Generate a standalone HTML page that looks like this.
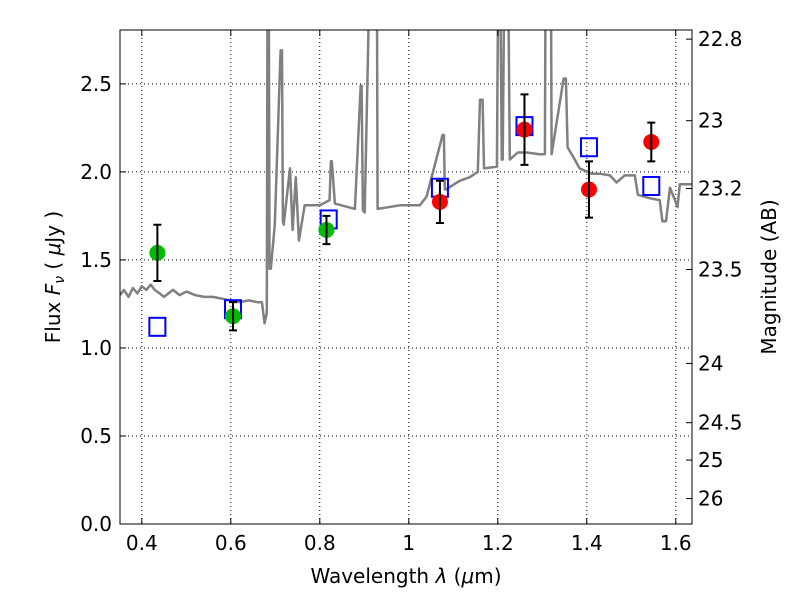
<!DOCTYPE html>
<html><head><meta charset="utf-8"><style>
body{margin:0;background:#fff;}
svg text{font-family:"DejaVu Sans","Liberation Sans",sans-serif;fill:#000;}
</style></head><body>
<svg id="chart" width="800" height="600" viewBox="0 0 800 600" xmlns="http://www.w3.org/2000/svg">
<defs><clipPath id="clip"><rect x="120" y="30" width="572" height="494"/></clipPath></defs>
<rect x="0" y="0" width="800" height="600" fill="#fff"/>
<g id="grid"></g>
<g id="spec" clip-path="url(#clip)"></g>
<g id="marks"></g>
<rect x="120" y="30" width="572" height="494" fill="none" stroke="#000" stroke-width="1"/>
<g id="axes"></g>
<text x="406" y="583" font-size="20" text-anchor="middle">Wavelength  <tspan font-style="italic">λ</tspan> (<tspan font-style="italic">μ</tspan>m)</text>
<text transform="translate(60,277) rotate(-90)" font-size="20" text-anchor="middle">Flux  <tspan font-style="italic">F</tspan><tspan font-style="italic" font-size="14" dy="4">ν</tspan><tspan dy="-4">  ( </tspan><tspan font-style="italic">μ</tspan>Jy )</text>
<text transform="translate(776,277) rotate(-90)" font-size="20" text-anchor="middle">Magnitude (AB)</text>
</svg>
<script>
const xTicks=[0.4,0.6,0.8,1.0,1.2,1.4,1.6];
const xTickLabels=["0.4","0.6","0.8","1","1.2","1.4","1.6"];
const yTicks=[0,0.5,1,1.5,2,2.5];
const yTickLabels=["0.0","0.5","1.0","1.5","2.0","2.5"];
const magTicks=[22.8,23,23.2,23.5,24,24.5,25,26];
const magTickLabels=["22.8","23","23.2","23.5","24","24.5","25","26"];
const specWave=[0.351,0.36,0.37,0.38,0.39,0.40,0.41,0.42,0.429,0.44,0.45,0.46,0.47,0.485,0.50,0.52,0.54,0.56,0.58,0.598,0.62,0.64,0.66,0.670,0.676,0.681,0.683,0.685,0.687,0.690,0.699,0.712,0.715,0.717,0.719,0.733,0.739,0.746,0.753,0.766,0.800,0.822,0.825,0.827,0.834,0.879,0.892,0.894,0.897,0.901,0.915,0.917,0.926,0.928,0.930,0.980,1.025,1.040,1.076,1.079,1.081,1.083,1.115,1.137,1.155,1.160,1.162,1.166,1.169,1.198,1.202,1.204,1.209,1.211,1.216,1.218,1.222,1.227,1.245,1.265,1.294,1.306,1.308,1.319,1.321,1.348,1.351,1.353,1.357,1.373,1.384,1.411,1.429,1.452,1.467,1.485,1.508,1.515,1.542,1.564,1.570,1.578,1.587,1.598,1.604,1.609,1.636];
const specFlux=[1.30,1.33,1.29,1.34,1.31,1.35,1.33,1.36,1.33,1.31,1.29,1.31,1.33,1.30,1.32,1.30,1.29,1.29,1.28,1.27,1.26,1.27,1.26,1.26,1.14,1.20,3.5,3.5,1.45,1.45,1.70,2.69,2.69,1.72,1.70,2.02,1.67,1.97,1.61,1.81,1.81,1.84,2.06,2.06,1.82,1.79,2.49,2.49,1.78,1.77,3.5,3.5,3.5,3.5,1.79,1.81,1.81,1.86,2.21,2.21,1.90,1.90,1.95,1.97,2.00,2.41,2.41,2.41,2.02,2.03,3.5,3.5,2.07,2.07,3.5,3.5,3.5,2.07,2.11,2.11,2.10,2.10,3.5,3.5,2.10,2.53,2.53,2.53,2.14,2.07,2.02,1.99,1.99,1.98,1.94,1.98,1.98,1.87,1.85,1.84,1.72,1.72,1.91,1.84,1.80,1.93,1.93];
const nirWave=[0.435,0.605,0.815];
const nirFlux=[1.54,1.18,1.67];
const nirErr=[0.16,0.08,0.08];
const irWave=[1.07,1.26,1.405,1.545];
const irFlux=[1.83,2.24,1.90,2.17];
const irErr=[0.12,0.20,0.16,0.11];
const modelWave=[0.435,0.605,0.82,1.07,1.26,1.405,1.545];
const modelFlux=[1.12,1.22,1.73,1.91,2.26,2.14,1.92];

const X0=120,X1=692,Y0=524,Y1=30,xmin=0.351,xmax=1.6365,ymin=0,ymax=2.806;
const sx=v=>X0+(v-xmin)/(xmax-xmin)*(X1-X0);
const sy=v=>Y0-(v-ymin)/(ymax-ymin)*(Y0-Y1);
const magToFlux=m=>Math.pow(10,(23.9-m)/2.5);
const NS="http://www.w3.org/2000/svg";
function mk(tag,attrs,parent){const e=document.createElementNS(NS,tag);for(const k in attrs)e.setAttribute(k,attrs[k]);parent.appendChild(e);return e;}
const grid=document.getElementById('grid'),axes=document.getElementById('axes'),spec=document.getElementById('spec'),marks=document.getElementById('marks');

xTicks.forEach((t,i)=>{const x=sx(t);
 const g=mk('line',{x1:x,x2:x,y1:Y1,y2:Y0,stroke:'#000','stroke-dasharray':'1,3','stroke-width':1},grid);
 
 
 mk('line',{x1:x,x2:x,y1:Y0,y2:Y0-6,stroke:'#000'},axes);
 mk('line',{x1:x,x2:x,y1:Y1,y2:Y1+6,stroke:'#000'},axes);
 const tx=mk('text',{x:x,y:Y0+26,'font-size':20,'text-anchor':'middle'},axes);tx.textContent=xTickLabels[i];
 
 
});
yTicks.forEach((t,i)=>{const y=sy(t);
 const g=mk('line',{x1:X0,x2:X1,y1:y,y2:y,stroke:'#000','stroke-dasharray':'1,3','stroke-width':1},grid);
 
 
 mk('line',{x1:X0,x2:X0+6,y1:y,y2:y,stroke:'#000'},axes);
 const tx=mk('text',{x:X0-8,y:y+7,'font-size':20,'text-anchor':'end'},axes);tx.textContent=yTickLabels[i];
 
 
});
magTicks.forEach((m,i)=>{const y=sy(magToFlux(m));
 mk('line',{x1:X1,x2:X1-6,y1:y,y2:y,stroke:'#000'},axes);
 const tx=mk('text',{x:X1+6,y:y+7,'font-size':20},axes);tx.textContent=magTickLabels[i];
 
 
});
const pts=specWave.map((w,i)=>sx(w).toFixed(1)+','+sy(specFlux[i]).toFixed(1)).join(' ');
const pl=mk('polyline',{points:pts,fill:'none',stroke:'#808080','stroke-width':2.5,'stroke-linejoin':'round'},spec);


modelWave.forEach((w,i)=>{
 const r=mk('rect',{x:sx(w)-8,y:sy(modelFlux[i])-9,width:16,height:18,fill:'none',stroke:'#0000ff','stroke-width':2},marks);
 
 
});
function pt(w,f,e,color,name){
 const x=sx(w),yt=sy(f+e),yb=sy(f-e);
 const c=mk('circle',{cx:x,cy:sy(f),r:8,fill:color},marks);
 
 
 const l=mk('path',{d:`M${x},${yt}V${yb}M${x-4},${yt}H${x+4}M${x-4},${yb}H${x+4}`,stroke:'#000','stroke-width':2,fill:'none'},marks);
 
 
}
nirWave.forEach((w,i)=>pt(w,nirFlux[i],nirErr[i],'#00bb00','optical-photometry-point'));
irWave.forEach((w,i)=>pt(w,irFlux[i],irErr[i],'#ff0000','nir-photometry-point'));
</script>
</body></html>
